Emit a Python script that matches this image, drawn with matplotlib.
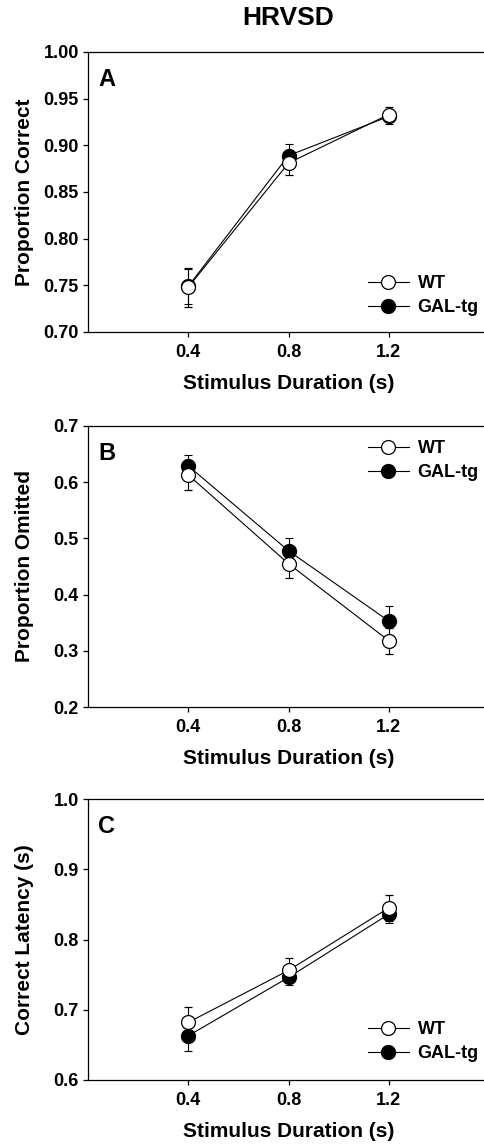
import matplotlib
matplotlib.use("Agg")
import matplotlib.pyplot as plt

plt.rcParams['font.family'] = ['Liberation Sans', 'DejaVu Sans']
plt.rcParams['font.weight'] = 'bold'

durations = [0.4, 0.8, 1.2]
xticks = [0.4, 0.8, 1.2]

# panel A - proportion correct
wt_correct = [0.748, 0.881, 0.933]
wt_correct_err = [0.021, 0.013, 0.008]
gal_correct = [0.749, 0.889, 0.931]
gal_correct_err = [0.019, 0.012, 0.008]

# panel B - proportion omitted
wt_omit = [0.613, 0.455, 0.318]
wt_omit_err = [0.027, 0.026, 0.023]
gal_omit = [0.629, 0.478, 0.353]
gal_omit_err = [0.020, 0.022, 0.026]

# panel C - correct latency
wt_lat = [0.682, 0.756, 0.845]
wt_lat_err = [0.022, 0.017, 0.018]
gal_lat = [0.663, 0.746, 0.836]
gal_lat_err = [0.022, 0.011, 0.013]

panels = [
    ("A", "Proportion Correct", wt_correct, wt_correct_err, gal_correct, gal_correct_err,
     (0.70, 1.00), [0.70, 0.75, 0.80, 0.85, 0.90, 0.95, 1.00], "{:.2f}"),
    ("B", "Proportion Omitted", wt_omit, wt_omit_err, gal_omit, gal_omit_err,
     (0.2, 0.7), [0.2, 0.3, 0.4, 0.5, 0.6, 0.7], "{:.1f}"),
    ("C", "Correct Latency (s)", wt_lat, wt_lat_err, gal_lat, gal_lat_err,
     (0.6, 1.0), [0.6, 0.7, 0.8, 0.9, 1.0], "{:.1f}"),
]

W, H = 485, 1144
fig = plt.figure(figsize=(W / 100, H / 100), dpi=100)

# axes boxes in pixels: (top, bottom), legend first-row top in pixels
boxes = [(52, 332), (426, 707), (799, 1080)]
legend_top = [275, 440, 1021]
left, right = 88, 489
aw = right - left

for (letter, ylabel, wt, wte, gal, gale, ylim, yt, fmt), (top, bot), lt in zip(panels, boxes, legend_top):
    ah = bot - top
    ax = fig.add_axes([left / W, 1 - bot / H, aw / W, ah / H])
    ax.errorbar(durations, gal, yerr=gale, color='black', marker='o', markersize=10,
                markerfacecolor='black', markeredgecolor='black', lw=0.8, elinewidth=0.8,
                capsize=3, capthick=0.8, label='GAL-tg', zorder=2)
    ax.errorbar(durations, wt, yerr=wte, color='black', marker='o', markersize=10,
                markerfacecolor='white', markeredgecolor='black', mew=0.9, lw=0.8, elinewidth=0.8,
                capsize=3, capthick=0.8, label='WT', zorder=3)
    ax.set_xlim(0, 1.6)
    ax.set_ylim(*ylim)
    ax.set_xticks(xticks)
    ax.set_xticklabels(["{:.1f}".format(v) for v in xticks])
    ax.set_yticks(yt)
    ax.set_yticklabels([fmt.format(v) for v in yt])
    ax.tick_params(direction='out', length=3.6, width=0.9, labelsize=13)
    ax.tick_params(axis='x', pad=5)
    ax.tick_params(axis='y', pad=3)
    ax.spines['right'].set_visible(False)
    for s in ['left', 'top', 'bottom']:
        ax.spines[s].set_linewidth(0.9)
    ax.set_xlabel("Stimulus Duration (s)", fontsize=15, fontweight='bold')
    ax.xaxis.set_label_coords(0.5, -42 / ah)
    ax.set_ylabel(ylabel, fontsize=15, fontweight='bold')
    ax.yaxis.set_label_coords(-(88 - 34) / aw, 0.5)
    ax.text(0.025, 1 - 16 / ah, letter, transform=ax.transAxes, fontsize=17, fontweight='bold',
            va='top', ha='left')
    h, l = ax.get_legend_handles_labels()
    h = [hh[0] for hh in h[::-1]]
    ax.legend(h, l[::-1], loc='upper left', bbox_to_anchor=((368 - left) / aw, (bot - lt) / ah),
              frameon=False, fontsize=13, handlelength=2.25, handletextpad=0.5,
              borderpad=0, borderaxespad=0, labelspacing=0.38)

fig.text((left + right) / 2 / W, 1 - 18 / H, "HRVSD", ha='center', va='center',
         fontsize=19, fontweight='bold')

fig.savefig("out.png", dpi=100)
